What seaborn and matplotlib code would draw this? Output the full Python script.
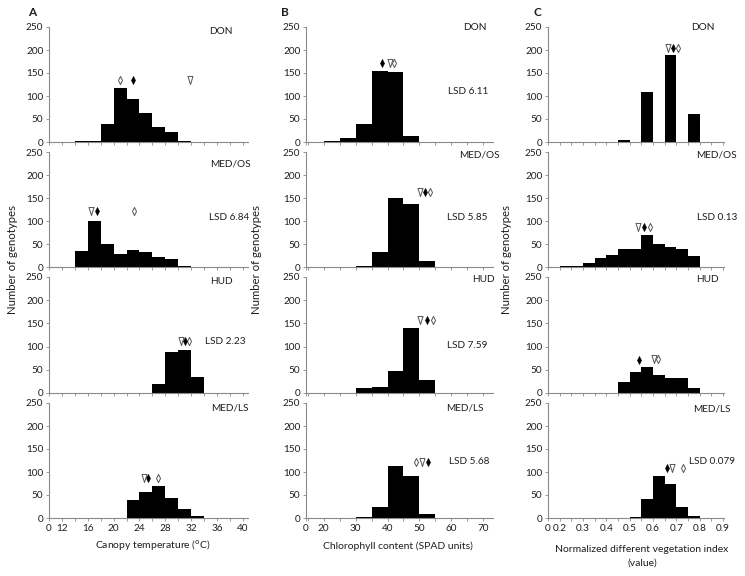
import numpy as np
import pandas as pd
import matplotlib
matplotlib.use("Agg")
import matplotlib.pyplot as plt
import seaborn as sns
from matplotlib.path import Path

sns.set_theme(style="white")
plt.rcParams['font.family'] = ['Lato', 'DejaVu Sans']

sites = ["DON", "MED/OS", "HUD", "MED/LS"]

# ---------------- Column A: canopy temperature (bins of 2 °C) ----------------
ct_bin_starts = [12, 14, 16, 18, 20, 22, 24, 26, 28, 30, 32, 34, 36]
ct_bin_width = 2
ct_counts = {
    "DON":    [0, 2, 2, 40, 117, 93, 64, 32, 22, 2, 0, 0, 0],
    "MED/OS": [1, 34, 100, 50, 28, 38, 32, 21, 17, 3, 0, 0, 0],
    "HUD":    [0, 0, 0, 0, 0, 0, 1, 19, 89, 92, 34, 1, 1],
    "MED/LS": [0, 0, 0, 0, 1, 39, 56, 70, 43, 20, 5, 1, 0],
}
ct_tri = {"DON": 31.8, "MED/OS": 16.5, "HUD": 30.5, "MED/LS": 24.7}
ct_fdia = {"DON": 23.05, "MED/OS": 17.4, "HUD": 31.1, "MED/LS": 25.3}
ct_odia = {"DON": 21.0, "MED/OS": 23.2, "HUD": 31.7, "MED/LS": 26.8}
ct_mark_y = {"DON": [135, 135, 135], "MED/OS": [122, 122, 122],
             "HUD": [112, 112, 112], "MED/LS": [88, 88, 88]}
ct_lsd = {"DON": "", "MED/OS": "LSD 6.84", "HUD": "LSD 2.23", "MED/LS": ""}
ct_ticks = [10, 12, 16, 20, 24, 28, 32, 36, 40]
ct_ticklabels = ["0", "12", "16", "20", "24", "28", "32", "36", "40"]

# ---------------- Column B: chlorophyll content (bins of 5 SPAD) -------------
spad_bin_starts = [15, 20, 25, 30, 35, 40, 45, 50, 55, 60]
spad_bin_width = 5
spad_counts = {
    "DON":    [0, 2, 8, 40, 155, 152, 14, 0, 0, 0],
    "MED/OS": [1, 0, 0, 3, 33, 151, 138, 13, 0, 1],
    "HUD":    [0, 0, 1, 10, 14, 48, 140, 27, 0, 0],
    "MED/LS": [0, 0, 0, 3, 25, 113, 91, 9, 0, 0],
}
spad_tri = {"DON": 40.9, "MED/OS": 50.1, "HUD": 50.3, "MED/LS": 50.7}
spad_fdia = {"DON": 38.2, "MED/OS": 51.7, "HUD": 52.2, "MED/LS": 52.6}
spad_odia = {"DON": 42.0, "MED/OS": 53.3, "HUD": 54.3, "MED/LS": 48.8}
spad_mark_y = {"DON": [171, 171, 171], "MED/OS": [163, 163, 163],
               "HUD": [157, 157, 157], "MED/LS": [122, 122, 122]}
spad_lsd = {"DON": "LSD 6.11", "MED/OS": "LSD 5.85", "HUD": "LSD 7.59", "MED/LS": "LSD 5.68"}
spad_ticks = [14.5, 20, 30, 40, 50, 60, 70]
spad_ticklabels = ["0", "20", "30", "40", "50", "60", "70"]

# ---------------- Column C: NDVI (bins of 0.05) ------------------------------
ndvi_bin_starts = [0.20, 0.25, 0.30, 0.35, 0.40, 0.45, 0.50, 0.55, 0.60, 0.65, 0.70, 0.75, 0.80]
ndvi_bin_width = 0.05
ndvi_counts = {
    "DON":    [0, 0, 0, 0, 0, 4, 0, 108, 0, 190, 0, 60, 0],
    "MED/OS": [3, 2, 8, 20, 27, 39, 39, 70, 49, 43, 39, 23, 0],
    "HUD":    [0, 0, 0, 0, 1, 23, 45, 57, 38, 33, 32, 10, 0],
    "MED/LS": [0, 0, 0, 0, 0, 0, 2, 42, 92, 74, 24, 4, 1],
}
ndvi_tri = {"DON": 0.664, "MED/OS": 0.538, "HUD": 0.606, "MED/LS": 0.680}
ndvi_fdia = {"DON": 0.685, "MED/OS": 0.562, "HUD": 0.542, "MED/LS": 0.659}
ndvi_odia = {"DON": 0.707, "MED/OS": 0.588, "HUD": 0.623, "MED/LS": 0.730}
ndvi_mark_y = {"DON": [204, 204, 204], "MED/OS": [86, 86, 86],
               "HUD": [74, 72, 74], "MED/LS": [108, 108, 108]}
ndvi_lsd = {"DON": "", "MED/OS": "LSD 0.13", "HUD": "", "MED/LS": "LSD 0.079"}
ndvi_ticks = [0.15, 0.2, 0.3, 0.4, 0.5, 0.6, 0.7, 0.8, 0.9]
ndvi_ticklabels = ["0", "0.2", "0.3", "0.4", "0.5", "0.6", "0.7", "0.8", "0.9"]

# ---------------- layout ------------------------------------------------------
W, H = 745, 576
fig = plt.figure(figsize=(W / 100, H / 100), dpi=100)
col_px = [(49, 248), (306, 493), (548, 724)]
row_px = [(27, 142), (152, 267), (277, 393), (403, 518)]
xlims = [(10, 40.8), (14.5, 73), (0.15, 0.905)]

columns = [
    (ct_bin_starts, ct_bin_width, ct_counts, ct_tri, ct_fdia, ct_odia, ct_mark_y, ct_lsd,
     ct_ticks, ct_ticklabels),
    (spad_bin_starts, spad_bin_width, spad_counts, spad_tri, spad_fdia, spad_odia, spad_mark_y,
     spad_lsd, spad_ticks, spad_ticklabels),
    (ndvi_bin_starts, ndvi_bin_width, ndvi_counts, ndvi_tri, ndvi_fdia, ndvi_odia, ndvi_mark_y,
     ndvi_lsd, ndvi_ticks, ndvi_ticklabels),
]

site_pos = [
    [(221, 31), (230, 164), (221, 282), (230, 408)],
    [(475, 28), (479, 155), (483, 280), (465, 408)],
    [(703, 28), (716, 155), (707, 279), (712, 409)],
]
lsd_pos = [
    [None, (229, 217), (225, 341), None],
    [(468, 92), (467, 218), (467, 345), (469, 461)],
    [None, (717, 217), None, (712, 461)],
]

tri_marker = Path([(-0.62, 1), (0.62, 1), (0, -1), (-0.62, 1)],
                  [Path.MOVETO, Path.LINETO, Path.LINETO, Path.CLOSEPOLY])
dia_marker = Path([(0, 1), (0.5, 0), (0, -1), (-0.5, 0), (0, 1)],
                  [Path.MOVETO, Path.LINETO, Path.LINETO, Path.LINETO, Path.CLOSEPOLY])

spine_c = "#8a8a8a"
text_c = "#1e1e1e"
fs_tick = 7.2
fs_txt = 7.2

for ci, (starts, bw, counts, tri, fdia, odia, my, lsd, ticks, tlabels) in enumerate(columns):
    l, r = col_px[ci]
    edges = list(starts) + [starts[-1] + bw]
    minor = [e for e in edges if min(abs(e - t) for t in ticks) > 1e-6]
    for ri, site in enumerate(sites):
        t, b = row_px[ri]
        ax = fig.add_axes([l / W, 1 - b / H, (r - l) / W, (b - t) / H])
        df = pd.DataFrame({"x": np.array(starts) + bw / 2, "n": counts[site]})
        sns.histplot(data=df, x="x", weights="n", bins=edges, ax=ax,
                     color="black", alpha=1, linewidth=0, element="bars")
        mx = [tri[site], fdia[site], odia[site]]
        sns.scatterplot(x=[mx[0]], y=[my[site][0]], ax=ax, marker=tri_marker, s=34,
                        facecolor="white", edgecolor="#555555", linewidth=0.7, zorder=5)
        sns.scatterplot(x=[mx[1]], y=[my[site][1]], ax=ax, marker=dia_marker, s=34,
                        color="black", edgecolor="black", linewidth=0.4, zorder=6)
        sns.scatterplot(x=[mx[2]], y=[my[site][2]], ax=ax, marker=dia_marker, s=34,
                        facecolor="white", edgecolor="#555555", linewidth=0.7, zorder=5)
        ax.set_xlim(*xlims[ci])
        ax.set_ylim(0, 250)
        ax.set_xlabel("")
        ax.set_ylabel("")
        ax.set_yticks([0, 50, 100, 150, 200, 250])
        ax.set_yticklabels(["0", "50", "100", "150", "200", "250"], fontsize=fs_tick, color=text_c)
        ax.set_xticks(ticks)
        ax.set_xticks(minor, minor=True)
        if ri == 3:
            ax.set_xticklabels(tlabels, fontsize=fs_tick, color=text_c)
        else:
            ax.set_xticklabels([])
        for s in ["top", "right"]:
            ax.spines[s].set_visible(False)
        for s in ["left", "bottom"]:
            ax.spines[s].set_color(spine_c)
            ax.spines[s].set_linewidth(0.8)
        ax.tick_params(axis="both", which="both", direction="out", length=2.5, width=0.6,
                       color=spine_c, pad=1.5, left=True, bottom=True)
        ax.patch.set_alpha(0)
        sx, sy = site_pos[ci][ri]
        fig.text(sx / W, 1 - sy / H, site, fontsize=fs_txt, color=text_c, ha="center", va="center")
        if lsd[site]:
            lx, ly = lsd_pos[ci][ri]
            fig.text(lx / W, 1 - ly / H, lsd[site], fontsize=fs_txt, color=text_c,
                     ha="center", va="center")

for letter, (x, y) in zip(["A", "B", "C"], [(32, 13), (285, 12), (537, 12)]):
    fig.text(x / W, 1 - y / H, letter, fontsize=8.5, fontweight="bold", color=text_c,
             ha="center", va="center")

for x in [12, 257, 506]:
    fig.text(x / W, 1 - 259 / H, "Number of genotypes", fontsize=8.2, color=text_c,
             rotation=90, ha="center", va="center")

fig.text(153 / W, 1 - 546 / H, "Canopy temperature ($^{\\mathrm{o}}$C)", fontsize=7.5,
         color=text_c, ha="center", va="center")
fig.text(398 / W, 1 - 546 / H, "Chlorophyll content (SPAD units)", fontsize=7.5,
         color=text_c, ha="center", va="center")
fig.text(642 / W, 1 - 549 / H, "Normalized different vegetation index", fontsize=7.5,
         color=text_c, ha="center", va="center")
fig.text(642 / W, 1 - 563 / H, "(value)", fontsize=7.5, color=text_c, ha="center", va="center")

fig.savefig("out.png", dpi=100, facecolor="white")
